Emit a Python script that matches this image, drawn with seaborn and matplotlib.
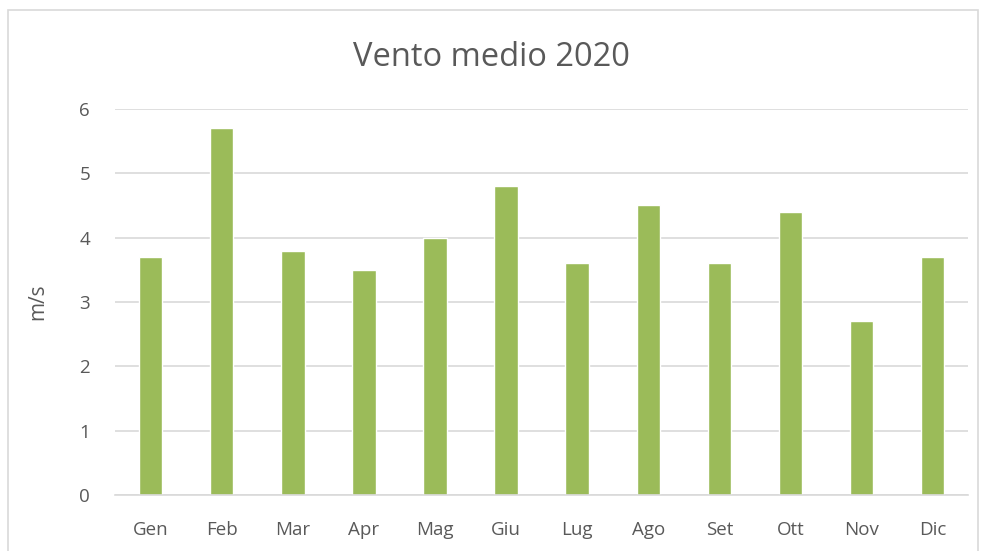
import matplotlib
matplotlib.use('Agg')
import matplotlib.pyplot as plt
import matplotlib.patches as patches
import seaborn as sns
import pandas as pd

# dati vento medio mensile
mesi = ['Gen', 'Feb', 'Mar', 'Apr', 'Mag', 'Giu', 'Lug', 'Ago', 'Set', 'Ott', 'Nov', 'Dic']
vento = [3.7, 5.7, 3.8, 3.5, 4.0, 4.8, 3.6, 4.5, 3.6, 4.4, 2.7, 3.7]
df = pd.DataFrame({'mese': mesi, 'vento': vento})

sns.set_style('white')
plt.rcParams['font.family'] = ['Open Sans', 'DejaVu Sans']

fig = plt.figure(figsize=(9.83, 5.51), dpi=100)
ax = fig.add_axes([0.117, 0.1016, 0.868, 0.7006])

sns.barplot(data=df, x='mese', y='vento', color='#9BBB59', width=0.33,
            saturation=1, ax=ax)

ax.set_ylim(0, 6)
ax.set_yticks(range(0, 7))
ax.grid(axis='y', color='#D9D9D9', linewidth=1.2)
ax.set_axisbelow(True)
for s in ['top', 'right', 'left']:
    ax.spines[s].set_visible(False)
ax.spines['bottom'].set_color('#D9D9D9')
ax.spines['bottom'].set_linewidth(1.2)
ax.tick_params(axis='both', length=0, labelsize=13.5, colors='#595959')
ax.tick_params(axis='x', pad=19)
ax.tick_params(axis='y', pad=18)
ax.set_xlabel('')
ax.set_ylabel('m/s', fontsize=15, color='#595959', labelpad=22)
fig.suptitle('Vento medio 2020', fontsize=23.5, color='#595959', y=0.925)

# bordo del grafico
bordo = patches.Rectangle((8 / 983, -0.05), 970 / 983, 1.032, transform=fig.transFigure,
                          fill=False, edgecolor='#D9D9D9', linewidth=1.2)
fig.patches.append(bordo)

fig.savefig('out.png', dpi=100)
